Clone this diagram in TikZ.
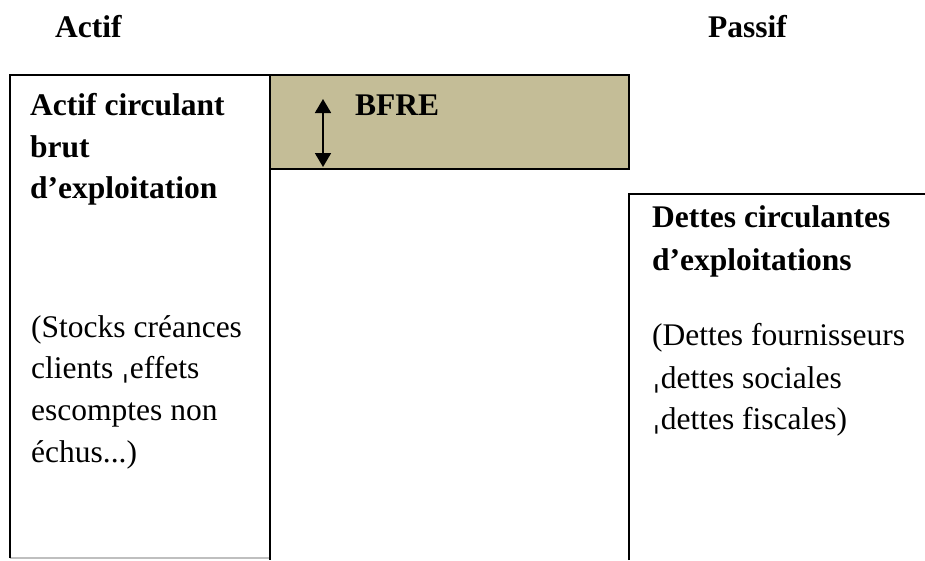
\documentclass[tikz,border=0pt]{standalone}
\usepackage{fontspec}
\setmainfont{Liberation Serif}
\newfontfamily\dvfont{DejaVu Sans}
\usetikzlibrary{arrows.meta}
\definecolor{tan}{HTML}{C4BD97}
\newcommand{\lowtick}{{\dvfont ˌ}}
\tikzset{
  txt/.style={anchor=base west, inner sep=0pt, font=\fontsize{31.5}{41.5}\selectfont},
  btxt/.style={txt, font=\fontsize{31.5}{41.5}\selectfont\bfseries},
  frame/.style={draw=black, line width=1.8pt},
  bfrearrow/.style={line width=1.8pt, {Triangle[width=16pt,length=14pt]}-{Triangle[width=16pt,length=14pt]}},
}
\begin{document}
\begin{tikzpicture}[x=1pt,y=-1pt]
\useasboundingbox (0,0) rectangle (925,560);
% headers
\node[btxt] (actif) at (55,37) {Actif};
\node[btxt] (passif) at (708,37) {Passif};
% BFRE box
\filldraw[frame, fill=tan] (270,75) rectangle (629,169);
% left box
\draw[gray!50, line width=1.5pt] (10,558) -- (270,558);
\draw[frame] (10,558) -- (10,75) -- (270,75) -- (270,560);
% right box
\draw[frame] (629,560) -- (629,194) -- (925,194);
% BFRE arrow
\coordinate (atop) at (323,99);
\coordinate (abot) at (323,167);
\draw[bfrearrow] (atop) -- (abot);
\node[btxt] (bfre) at (355,115) {BFRE};
% left texts
\node[btxt] (l1) at (30,115) {Actif circulant};
\node[btxt] (l2) at (30,157) {brut};
\node[btxt] (l3) at (30,198) {d’exploitation};
\node[txt] (l4) at (31,337) {(Stocks créances};
\node[txt] (l5) at (31,378) {clients \lowtick effets};
\node[txt] (l6) at (31,420) {escomptes non};
\node[txt] (l7) at (31,462) {échus...)};
% right texts
\node[btxt] (r1) at (652,227) {Dettes circulantes};
\node[btxt] (r2) at (652,270) {d’exploitations};
\node[txt] (r3) at (652,345) {(Dettes fournisseurs};
\node[txt] (r4) at (652,388) {\lowtick dettes sociales};
\node[txt] (r5) at (652,429) {\lowtick dettes fiscales)};
\end{tikzpicture}
\end{document}
